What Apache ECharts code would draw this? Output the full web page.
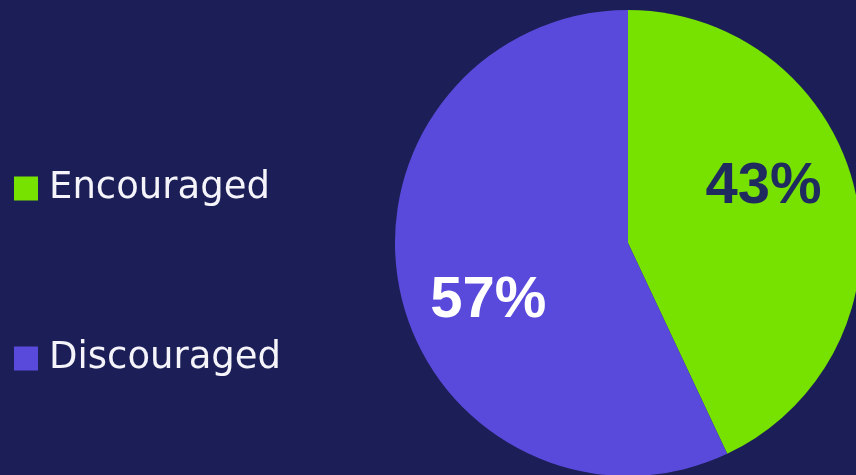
<!DOCTYPE html>
<html><head><meta charset="utf-8">
<script src="https://cdn.jsdelivr.net/npm/echarts@6/dist/echarts.min.js"></script>
<style>html,body{margin:0;padding:0;background:#1c1f57;}#c{width:856px;height:475px;}</style>
</head><body><div id="c"></div>
<script>
const categories = ['Encouraged', 'Discouraged'];
const values = [43, 57];
const colors = ['#77e200', '#5a4adb'];
const labelColors = ['#1f2a5e', '#ffffff'];
const labelOffsets = [[19, -30], [-23, 32]];

const chart = echarts.init(document.getElementById('c'));
chart.setOption({
  backgroundColor: '#1c1f57',
  animation: false,
  legend: {
    orient: 'vertical',
    left: 14,
    top: 166,
    padding: 0,
    itemWidth: 24,
    itemHeight: 24,
    itemGap: 125,
    icon: 'rect',
    data: categories,
    textStyle: { color: '#f4f4fa', fontSize: 37, fontFamily: 'DejaVu Sans', lineHeight: 40, padding: [5, 0, 0, 6] }
  },
  series: [{
    type: 'pie',
    center: [628, 243],
    radius: 233,
    startAngle: 90,
    clockwise: true,
    label: { position: 'inside', formatter: '{d}%', fontSize: 58, fontWeight: 'bold', fontFamily: 'Liberation Sans' },
    labelLine: { show: false },
    emphasis: { disabled: true },
    data: categories.map((c, i) => ({
      name: c, value: values[i],
      itemStyle: { color: colors[i] },
      label: { color: labelColors[i], offset: labelOffsets[i] }
    }))
  }]
});
</script></body></html>
